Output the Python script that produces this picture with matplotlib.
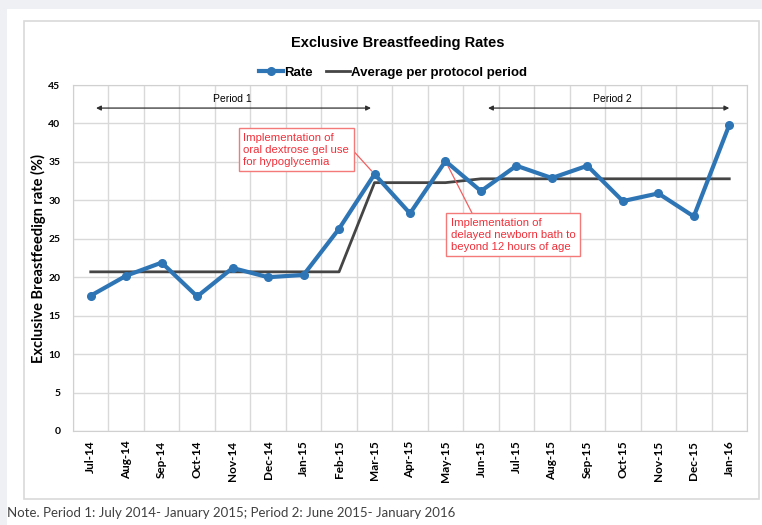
import matplotlib
matplotlib.use('Agg')
import matplotlib.pyplot as plt
from matplotlib.patches import Rectangle

# Data
months = ['Jul-14', 'Aug-14', 'Sep-14', 'Oct-14', 'Nov-14', 'Dec-14', 'Jan-15',
          'Feb-15', 'Mar-15', 'Apr-15', 'May-15', 'Jun-15', 'Jul-15', 'Aug-15',
          'Sep-15', 'Oct-15', 'Nov-15', 'Dec-15', 'Jan-16']
rate = [17.6, 20.2, 21.9, 17.5, 21.2, 20.0, 20.3, 26.3, 33.4, 28.3,
        35.1, 31.2, 34.5, 32.9, 34.5, 29.9, 30.9, 27.9, 39.8]
average = [20.7, 20.7, 20.7, 20.7, 20.7, 20.7, 20.7, 20.7, 32.3, 32.3,
           32.3, 32.8, 32.8, 32.8, 32.8, 32.8, 32.8, 32.8, 32.8]
y_ticks = [0, 5, 10, 15, 20, 25, 30, 35, 40, 45]

narrow = ['Liberation Sans', 'DejaVu Sans']
calibri = ['Lato', 'DejaVu Sans']

fig = plt.figure(figsize=(7.62, 5.25), dpi=100)
fig.patch.set_facecolor('#eef0f3')

# white panel and chart border
fig.patches.append(Rectangle((7 / 762, 0), 1, 1 - 9 / 525, transform=fig.transFigure,
                             facecolor='white', edgecolor='none', zorder=-2))
fig.patches.append(Rectangle((24 / 762, 1 - 499 / 525), 735 / 762, 478 / 525,
                             transform=fig.transFigure, facecolor='white',
                             edgecolor='#d9d9d9', lw=1.2, zorder=-1))

ax = fig.add_axes([73 / 762, 1 - 431 / 525, 674 / 762, 346 / 525])
ax.set_zorder(2)
ax.set_facecolor('white')

x = list(range(len(months)))
ax.plot(x, average, color='#454545', lw=2, label='Average per protocol period', zorder=3)
ax.plot(x, rate, color='#2e75b6', lw=3, marker='o', markersize=5.5,
        label='Rate', zorder=4)

ax.set_xlim(-0.5, len(months) - 0.5)
ax.set_ylim(0, 45)
ax.set_yticks(y_ticks)
ax.set_yticklabels([str(v) for v in y_ticks], fontfamily=calibri,
                   fontweight='bold', fontsize=7.5)
ax.set_xticks(x)
ax.set_xticklabels(months, rotation=90, fontfamily=calibri, fontweight='bold',
                   fontsize=8.5)
ax.set_xticks([i - 0.5 for i in range(len(months) + 1)], minor=True)
ax.tick_params(axis='both', which='both', length=0)
ax.tick_params(axis='y', pad=9)
ax.tick_params(axis='x', pad=7)
ax.grid(True, axis='y', which='major', color='#d9d9d9', lw=1)
ax.grid(True, axis='x', which='minor', color='#d9d9d9', lw=1)
ax.set_axisbelow(True)
for s in ax.spines.values():
    s.set_color('#d0d0d0')

ax.set_ylabel('Exclusive Breastfeedign rate (%)', fontfamily=calibri,
              fontweight='bold', fontsize=10.5, labelpad=2)

# legend, ordered Rate first
handles, labels = ax.get_legend_handles_labels()
leg = ax.legend(handles[::-1], labels[::-1], ncol=2, loc='lower center',
                bbox_to_anchor=(0.475, 1.0), frameon=False, handlelength=1.8,
                handletextpad=0.1, columnspacing=1.0, borderaxespad=0.05,
                prop={'family': narrow, 'weight': 'bold', 'size': 9.5})

fig.text(398 / 762, 1 - 43 / 525, 'Exclusive Breastfeeding Rates', ha='center',
         va='center', fontfamily=narrow, fontweight='bold', fontsize=10.5)

# period arrows
arrow_kw = dict(arrowstyle='<|-|>', color='#303030', lw=0.9,
                mutation_scale=7, shrinkA=0, shrinkB=0)
ax.annotate('', xy=(7.9, 42), xytext=(0.15, 42), arrowprops=arrow_kw)
ax.annotate('', xy=(18.0, 42), xytext=(11.2, 42), arrowprops=arrow_kw)
ax.text(4.0, 43.2, 'Period 1', ha='center', va='center', fontfamily=narrow,
        fontsize=7.5)
ax.text(14.7, 43.2, 'Period 2', ha='center', va='center', fontfamily=narrow,
        fontsize=7.5)

# callouts
red = '#f0303a'
box_kw = dict(boxstyle='square,pad=0.4', facecolor='white', edgecolor='#f47a7a',
              lw=1)
ax.annotate('Implementation of\noral dextrose gel use\nfor hypoglycemia',
            xy=(8, rate[8]), xytext=(4.3, 36.6), ha='left', va='center',
            color=red, fontsize=8.2, fontfamily=narrow, linespacing=1.25,
            bbox=box_kw,
            arrowprops=dict(arrowstyle='-', color='#f06060', lw=0.9,
                            relpos=(1.0, 0.6), shrinkA=0, shrinkB=3))
ax.annotate('Implementation of\ndelayed newborn bath to\nbeyond 12 hours of age',
            xy=(10, rate[10]), xytext=(10.15, 25.5), ha='left', va='center',
            color=red, fontsize=8.2, fontfamily=narrow, linespacing=1.25,
            bbox=box_kw,
            arrowprops=dict(arrowstyle='-', color='#f06060', lw=0.9,
                            relpos=(0.19, 1.0), shrinkA=0, shrinkB=3))

fig.text(7 / 762, 1 - 513 / 525,
         'Note. Period 1: July 2014- January 2015; Period 2: June 2015- January 2016',
         ha='left', va='center', fontfamily=calibri, fontsize=9.5, color='#404040')

fig.savefig('out.png', dpi=100, facecolor=fig.get_facecolor())
